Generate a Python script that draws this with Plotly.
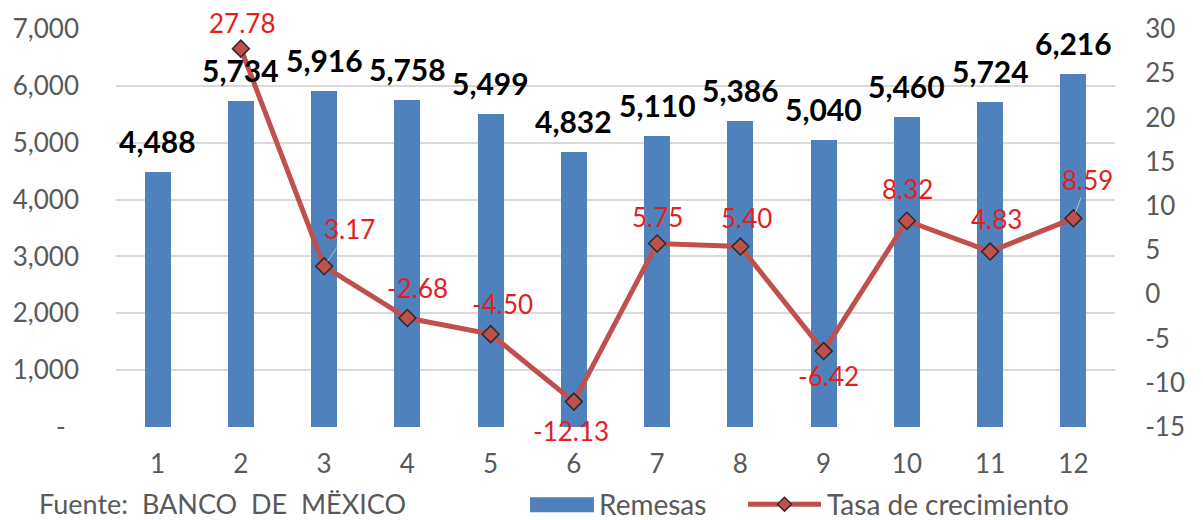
import plotly.graph_objects as go

# ---- data ----
months = list(range(1, 13))
remesas = [4488, 5734, 5916, 5758, 5499, 4832, 5110, 5386, 5040, 5460, 5724, 6216]
tasa = [None, 27.78, 3.17, -2.68, -4.50, -12.13, 5.75, 5.40, -6.42, 8.32, 4.83, 8.59]
left_tickvals = [0, 1000, 2000, 3000, 4000, 5000, 6000, 7000]
left_ticktext = ["-\u00a0\u00a0", "1,000", "2,000", "3,000", "4,000", "5,000", "6,000", "7,000"]
right_tickvals = [-15, -10, -5, 0, 5, 10, 15, 20, 25, 30]
right_ticktext = ["-15", "-10", "-5", "0", "5", "10", "15", "20", "25", "30"]
series_names = ["Remesas", "Tasa de crecimiento"]
source_text = "Fuente:  BANCO  DE  MËXICO"

# ---- style ----
FONT = "Lato"
BLUE = "#4F81BD"
RED = "#C0504D"
LABEL_RED = "#E41E1E"
GRAY = "#595959"
# pixel offsets (dx, dy; dy positive = up) for growth-rate labels
rate_offsets = [None, (1, 26), (25, 37), (10, 30), (12, 30), (-3, -29), (0, 26),
                (6, 29), (5, -25), (1, 32), (6, 33), (14, 38)]
leader_idx = {2, 11}

ML, MR, MT, MB = 116, 88, 25, 93
W, H = 1203, 520
PW, PH = W - ML - MR, H - MT - MB

def px_x(p):
    return (p - ML) / PW

def px_y(p):
    return (H - MB - p) / PH

fig = go.Figure()
fig.add_trace(go.Bar(x=months, y=remesas, width=0.31, marker=dict(color=BLUE, line=dict(width=0)),
                     name=series_names[0], yaxis="y", showlegend=False))
fig.add_trace(go.Scatter(x=months, y=tasa, yaxis="y2", mode="lines+markers", name=series_names[1],
                         line=dict(color=RED, width=5),
                         marker=dict(symbol="diamond", size=13, color=RED,
                                     line=dict(color="#2a2a2a", width=1.5)),
                         showlegend=False))

annotations = []
for m, v in zip(months, remesas):
    annotations.append(dict(x=m, y=v, xref="x", yref="y", text=f"{v:,}", showarrow=False,
                            yshift=31, font=dict(family=FONT, size=30, color="#000000", weight="bold")))
for i, (m, v) in enumerate(zip(months, tasa)):
    if v is None:
        continue
    dx, dy = rate_offsets[i]
    if i in leader_idx:
        annotations.append(dict(x=m, y=v, xref="x", yref="y2", text=f"{v:.2f}", showarrow=True,
                                arrowhead=0, arrowwidth=1, arrowcolor="#BFBFBF", ax=dx, ay=-dy,
                                standoff=6, font=dict(family=FONT, size=26, color=LABEL_RED)))
    else:
        annotations.append(dict(x=m, y=v, xref="x", yref="y2", text=f"{v:.2f}", showarrow=False,
                                xshift=dx, yshift=dy, font=dict(family=FONT, size=26, color=LABEL_RED)))

# source note and custom legend texts
annotations.append(dict(x=px_x(37), y=px_y(504), xref="paper", yref="paper", xanchor="left",
                        yanchor="middle", text=source_text, showarrow=False,
                        font=dict(family=FONT, size=27, color=GRAY)))
annotations.append(dict(x=px_x(597), y=px_y(505), xref="paper", yref="paper", xanchor="left",
                        yanchor="middle", text=series_names[0], showarrow=False,
                        font=dict(family=FONT, size=28, color=GRAY)))
annotations.append(dict(x=px_x(825), y=px_y(505), xref="paper", yref="paper", xanchor="left",
                        yanchor="middle", text=series_names[1], showarrow=False,
                        font=dict(family=FONT, size=28, color=GRAY)))

shapes = [
    dict(type="rect", xref="paper", yref="paper", x0=px_x(530), x1=px_x(594), y0=px_y(498), y1=px_y(513),
         fillcolor=BLUE, line=dict(width=0)),
    dict(type="line", xref="paper", yref="paper", x0=px_x(748), x1=px_x(821), y0=px_y(505), y1=px_y(505),
         line=dict(color=RED, width=5)),
]
cx, cy, r = 784.5, 505, 7
shapes.append(dict(type="path", xref="paper", yref="paper",
                   path=f"M {px_x(cx - r)} {px_y(cy)} L {px_x(cx)} {px_y(cy - r)} L {px_x(cx + r)} {px_y(cy)} L {px_x(cx)} {px_y(cy + r)} Z",
                   fillcolor=RED, line=dict(color="#2a2a2a", width=1.5)))

fig.update_layout(
    width=W, height=H,
    margin=dict(l=ML, r=MR, t=MT, b=MB, pad=0),
    paper_bgcolor="white", plot_bgcolor="white",
    font=dict(family=FONT, color=GRAY),
    bargap=0,
    xaxis=dict(range=[0.5, 12.5], tickvals=months, showgrid=False, zeroline=False, showline=False,
               ticks="", ticklabelstandoff=19, tickfont=dict(family=FONT, size=26, color=GRAY)),
    yaxis=dict(range=[0, 7000], tickvals=left_tickvals, ticktext=left_ticktext, showgrid=True,
               gridcolor="#D9D9D9", gridwidth=1.5, zeroline=False, showline=False, ticks="",
               ticklabelstandoff=36, tickfont=dict(family=FONT, size=26, color=GRAY)),
    yaxis2=dict(range=[-15, 30], tickvals=right_tickvals, ticktext=right_ticktext, overlaying="y",
                side="right", showgrid=False, zeroline=False, showline=False,
                ticks="outside", ticklen=24, tickcolor="rgba(0,0,0,0)",
                tickfont=dict(family=FONT, size=26, color=GRAY)),
    annotations=annotations,
    shapes=shapes,
)

fig.write_html("out.html", config={"displayModeBar": False},
               post_script="document.body.style.margin='0';document.body.style.overflow='hidden';")
